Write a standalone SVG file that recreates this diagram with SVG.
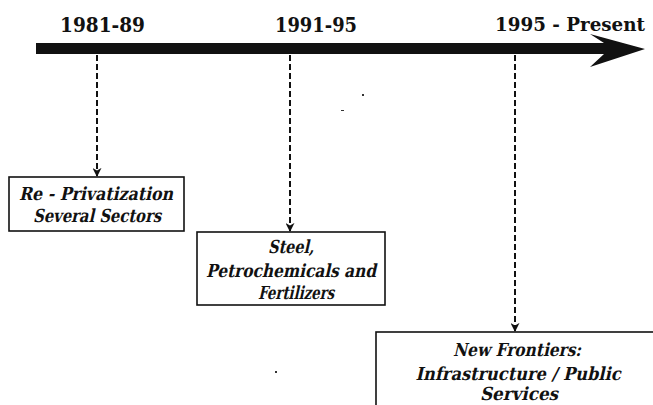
<svg xmlns="http://www.w3.org/2000/svg" width="653" height="405" viewBox="0 0 653 405">
  <style>
    .era { font-family: "DejaVu Serif", serif; font-weight: bold; font-size: 20px; fill: #111; }
    .lbl { font-family: "DejaVu Serif", serif; font-weight: bold; font-size: 18px; fill: #111; text-anchor: middle; }
    .box { fill: #fff; stroke: #111; stroke-width: 1.6; }
    .link { fill: none; stroke: #111; stroke-width: 2; stroke-dasharray: 6 3; }
  </style>
  <defs>
    <marker id="tip" viewBox="0 0 10 10" refX="9" refY="5" markerWidth="4.5" markerHeight="4.5" orient="auto" markerUnits="strokeWidth">
      <path d="M0,0 L10,5 L0,10 L3,5 Z" fill="#111"/>
    </marker>
  </defs>
  <rect width="653" height="405" fill="#fff"/>

  <!-- timeline -->
  <g id="timeline">
    <rect x="36" y="43" width="570" height="11" fill="#111"/>
    <path d="M590,34 L645,49 L590,67 L604,54 L604,43 Z" fill="#111"/>
    <text class="era" x="60" y="32" textLength="85" lengthAdjust="spacingAndGlyphs">1981-89</text>
    <text class="era" x="275" y="32" textLength="82" lengthAdjust="spacingAndGlyphs">1991-95</text>
    <text class="era" x="495" y="31" style="font-size:18.5px" textLength="150" lengthAdjust="spacingAndGlyphs">1995 - Present</text>
  </g>

  <!-- connectors -->
  <g id="connectors">
    <line class="link" x1="97" y1="55" x2="97" y2="176" marker-end="url(#tip)"/>
    <line class="link" x1="290" y1="55" x2="290" y2="231" marker-end="url(#tip)"/>
    <line class="link" x1="515" y1="55" x2="515" y2="331" marker-end="url(#tip)"/>
  </g>

  <!-- slanted labels: upright bold serif sheared into italic -->
  <g id="node-privatization">
    <rect class="box" x="9" y="177" width="175" height="54"/>
    <g transform="translate(96,200) skewX(-13)"><text class="lbl" textLength="154" lengthAdjust="spacingAndGlyphs">Re - Privatization</text></g>
    <g transform="translate(97,222) skewX(-13)"><text class="lbl" textLength="128" lengthAdjust="spacingAndGlyphs">Several Sectors</text></g>
  </g>

  <g id="node-steel">
    <rect class="box" x="197" y="232" width="188" height="73"/>
    <g transform="translate(291,253) skewX(-13)"><text class="lbl" textLength="46" lengthAdjust="spacingAndGlyphs">Steel,</text></g>
    <g transform="translate(291,277) skewX(-13)"><text class="lbl" textLength="170" lengthAdjust="spacingAndGlyphs">Petrochemicals and</text></g>
    <g transform="translate(296,299) skewX(-13)"><text class="lbl" textLength="76" lengthAdjust="spacingAndGlyphs">Fertilizers</text></g>
  </g>

  <g id="node-frontiers">
    <rect class="box" x="376" y="332" width="290" height="90"/>
    <g transform="translate(517,356) skewX(-13)"><text class="lbl" textLength="128" lengthAdjust="spacingAndGlyphs">New Frontiers:</text></g>
    <g transform="translate(518,380) skewX(-13)"><text class="lbl" textLength="205" lengthAdjust="spacingAndGlyphs">Infrastructure / Public</text></g>
    <g transform="translate(519,400) skewX(-13)"><text class="lbl" textLength="78" lengthAdjust="spacingAndGlyphs">Services</text></g>
  </g>

  <!-- specks -->
  <g id="specks" fill="#333">
    <rect x="362" y="94" width="2" height="2"/>
    <rect x="341" y="110" width="3" height="1"/>
    <rect x="275" y="371" width="2" height="2"/>
  </g>
</svg>
